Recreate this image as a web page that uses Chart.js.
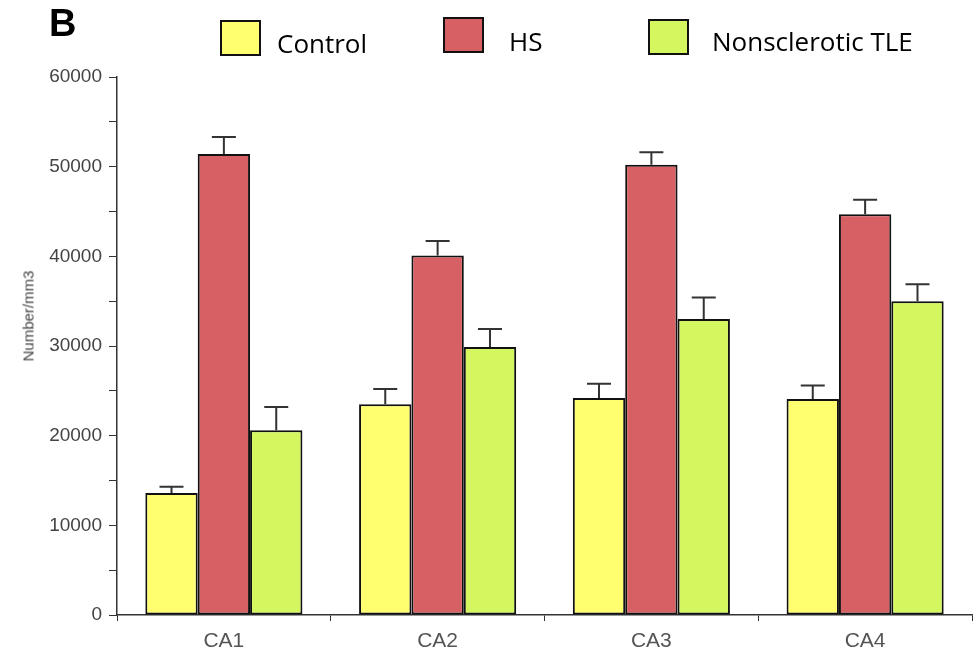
<!DOCTYPE html>
<html lang="en">
<head>
  <meta charset="UTF-8">
  <title>Number/mm3 by region</title>
  <script src="https://cdn.jsdelivr.net/npm/chart.js"></script>
  <style>
    html, body { margin: 0; padding: 0; background: #fff; }
    .wrap { position: relative; width: 977px; height: 654px; }
    canvas { position: absolute; left: 0; top: 0; }
    .painel { position: absolute; left: 49px; top: 2px; font: bold 38px "Liberation Sans", Arial, sans-serif; color: #000; }
    .leg-box { position: absolute; width: 37px; height: 32px; border: 2px solid #111; }
    .leg-txt { position: absolute; font: 26px "Open Sans", sans-serif; color: #000; line-height: 1; }
    .ytitulo { position: absolute; left: 28px; top: 316px; transform: translate(-50%, -50%) rotate(-90deg);
               font-size: 15px; font-family: "Liberation Sans", Arial, sans-serif; color: #444; white-space: nowrap; }
  </style>
</head>
<body>
  <div class="wrap">
    <canvas id="grafico" width="977" height="654"></canvas>
    <div class="painel">B</div>
    <div class="leg-box" style="left:220px; top:20px; background:#ffff70;"></div>
    <div class="leg-txt" style="left:277px; top:30px;">Control</div>
    <div class="leg-box" style="left:443px; top:17px; background:#d66064;"></div>
    <div class="leg-txt" style="left:509px; top:28px;">HS</div>
    <div class="leg-box" style="left:648px; top:19px; background:#d4f760;"></div>
    <div class="leg-txt" style="left:712px; top:28px;">Nonsclerotic TLE</div>
    <div class="ytitulo">Number/mm3</div>
  </div>

  <script>
    // dados
    const regioes = ['CA1', 'CA2', 'CA3', 'CA4'];
    const controle = [13600, 23500, 24200, 24100];
    const controleErro = [700, 1700, 1600, 1500];
    const hs = [51400, 40100, 50200, 44700];
    const hsErro = [1900, 1600, 1400, 1600];
    const tle = [20600, 29900, 33000, 35000];
    const tleErro = [2600, 2000, 2400, 1900];
    const ticksY = [0, 10000, 20000, 30000, 40000, 50000, 60000];

    const erros = [controleErro, hsErro, tleErro];

    // barras de erro desenhadas em cima das barras
    const barrasErro = {
      id: 'barrasErro',
      afterDatasetsDraw(chart) {
        const ctx = chart.ctx;
        const y = chart.scales.y;
        ctx.save();
        ctx.strokeStyle = '#333';
        ctx.lineWidth = 2;
        chart.data.datasets.forEach((ds, i) => {
          const meta = chart.getDatasetMeta(i);
          meta.data.forEach((bar, j) => {
            const topo = y.getPixelForValue(ds.data[j] + erros[i][j]);
            ctx.beginPath();
            ctx.moveTo(bar.x, bar.y);
            ctx.lineTo(bar.x, topo);
            ctx.moveTo(bar.x - 12, topo);
            ctx.lineTo(bar.x + 12, topo);
            ctx.stroke();
          });
        });
        ctx.restore();
      }
    };

    const ctx = document.getElementById('grafico').getContext('2d');
    const grafico = new Chart(ctx, {
      type: 'bar',
      data: {
        labels: regioes,
        datasets: [
          { label: 'Control', data: controle, backgroundColor: '#ffff70' },
          { label: 'HS', data: hs, backgroundColor: '#d66064' },
          { label: 'Nonsclerotic TLE', data: tle, backgroundColor: '#d4f760' }
        ].map(d => Object.assign(d, {
          borderColor: '#111', borderWidth: 2, borderSkipped: false,
          barPercentage: 1.0, categoryPercentage: 0.735
        }))
      },
      options: {
        responsive: false,
        animation: false,
        layout: { padding: { left: 0, right: 5, top: 77, bottom: 0 } },
        scales: {
          x: {
            afterFit: s => { s.height = 39; },
            grid: { drawOnChartArea: false, tickLength: 6, color: '#333' },
            border: { color: '#333', width: 1.5 },
            ticks: { color: '#555', font: { family: 'Liberation Sans', size: 21 }, padding: 8 }
          },
          y: {
            min: 0, max: 60000,
            afterFit: s => { s.width = 117; },
            afterBuildTicks: s => {
              const t = [];
              for (let v = 0; v <= 60000; v += 5000) t.push({ value: v });
              s.ticks = t;
            },
            grid: { drawOnChartArea: false, tickLength: 8, color: '#333' },
            border: { color: '#333', width: 1.5 },
            ticks: {
              color: '#444', padding: 7,
              font: { family: 'Liberation Sans', size: 19 },
              callback: v => ticksY.includes(v) ? String(v) : ''
            }
          }
        },
        plugins: {
          legend: { display: false },
          tooltip: { enabled: false }
        }
      },
      plugins: [barrasErro]
    });
  </script>
</body>
</html>
